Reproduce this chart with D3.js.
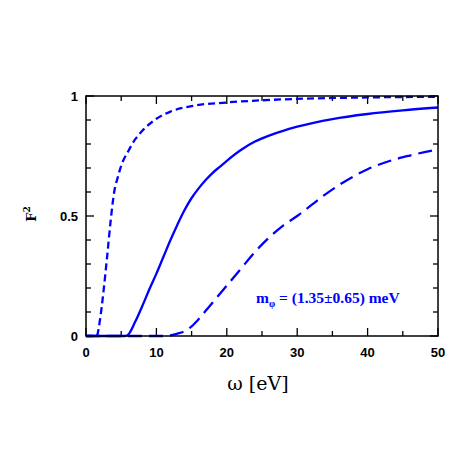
<!DOCTYPE html>
<html>
<head>
<meta charset="utf-8">
<script src="https://cdn.jsdelivr.net/npm/d3@7"></script>
<style>
  body { margin: 0; background: #fff; }
</style>
</head>
<body>
<div id="chart"></div>
<script>
// data
var xShort = [0, 1.5, 2, 2.5, 3, 3.5, 4, 4.5, 5, 6, 7, 8, 10, 12, 15, 20, 25, 30, 40, 50];
var yShort = [0, 0, 0.07, 0.19, 0.33, 0.48, 0.6, 0.66, 0.71, 0.77, 0.82, 0.855, 0.905, 0.935, 0.958, 0.973, 0.982, 0.988, 0.994, 0.997];

var xSolid = [0, 5.5, 6, 7, 8, 9, 10, 11, 12, 13, 14, 15, 16, 17, 18, 19, 20, 22, 24, 26, 28, 30, 35, 40, 45, 50];
var ySolid = [0, 0, 0.006, 0.06, 0.125, 0.195, 0.26, 0.33, 0.4, 0.465, 0.525, 0.575, 0.615, 0.65, 0.68, 0.705, 0.73, 0.775, 0.81, 0.835, 0.855, 0.872, 0.904, 0.925, 0.94, 0.952];

var xLong = [0, 11, 12, 13, 14, 15, 16, 17, 18, 19, 20, 22, 24, 26, 28, 30, 32, 34, 36, 38, 40, 43, 46, 50];
var yLong = [0, 0, 0.003, 0.01, 0.02, 0.04, 0.07, 0.105, 0.14, 0.175, 0.21, 0.28, 0.35, 0.41, 0.46, 0.5, 0.545, 0.59, 0.63, 0.665, 0.695, 0.728, 0.752, 0.778];

var xTicks = [0, 10, 20, 30, 40, 50];
var yTicks = [0, 0.5, 1];
var yTickLabels = ["0", "0.5", "1"];

function draw() {
  var W = 463, H = 463;
  var pLeft = 86, pRight = 438, pTop = 96, pBottom = 336;

  var svg = d3.select("#chart").append("svg")
      .attr("width", W)
      .attr("height", H);

  var x = d3.scaleLinear().domain([0, 50]).range([pLeft, pRight]);
  var y = d3.scaleLinear().domain([0, 1]).range([pBottom, pTop]);

  //ticks (all inward)
  var g = svg.append("g").attr("stroke", "#000").attr("stroke-width", 1.3);
  d3.range(0, 51, 5).forEach(function(v) {
    var len = (v % 10 == 0) ? 8 : 5;
    g.append("line").attr("x1", x(v)).attr("x2", x(v)).attr("y1", pBottom).attr("y2", pBottom - len);
    g.append("line").attr("x1", x(v)).attr("x2", x(v)).attr("y1", pTop).attr("y2", pTop + len);
  });
  d3.range(0, 11).forEach(function(i) {
    var v = i / 10;
    var len = (i % 5 == 0) ? 8 : 5;
    g.append("line").attr("x1", pLeft).attr("x2", pLeft + len).attr("y1", y(v)).attr("y2", y(v));
    g.append("line").attr("x1", pRight).attr("x2", pRight - len).attr("y1", y(v)).attr("y2", y(v));
  });

  // curves
  var line = d3.line()
    .x(function(d) { return x(d[0]); })
    .y(function(d) { return y(d[1]); })
    .curve(d3.curveMonotoneX);

  function pairs(xs, ys) {
    return xs.map(function(v, i) { return [v, ys[i]]; });
  }

  svg.append("path").datum(pairs(xSolid, ySolid))
    .attr("d", line).attr("fill", "none").attr("stroke", "#0000ff").attr("stroke-width", 2.3);
  svg.append("path").datum(pairs(xShort, yShort))
    .attr("d", line).attr("fill", "none").attr("stroke", "#0000ff").attr("stroke-width", 2.3)
    .attr("stroke-dasharray", "7,4");
  svg.append("path").datum(pairs(xLong, yLong))
    .attr("d", line).attr("fill", "none").attr("stroke", "#0000ff").attr("stroke-width", 2.3)
    .attr("stroke-dasharray", "14,7");

  // frame
  svg.append("rect")
    .attr("x", pLeft).attr("y", pTop)
    .attr("width", pRight - pLeft).attr("height", pBottom - pTop)
    .attr("fill", "none").attr("stroke", "#000").attr("stroke-width", 1.5);

  // tick labels
  svg.selectAll(".xl").data(xTicks).enter().append("text")
    .attr("x", function(d) { return x(d); })
    .attr("y", 357)
    .attr("text-anchor", "middle")
    .attr("font-family", "Liberation Sans, Arial, sans-serif")
    .attr("font-size", 13).attr("font-weight", "bold")
    .text(function(d) { return d; });

  svg.selectAll(".yl").data(yTicks).enter().append("text")
    .attr("x", pLeft - 8)
    .attr("y", function(d) { return y(d) + 5; })
    .attr("text-anchor", "end")
    .attr("font-family", "Liberation Sans, Arial, sans-serif")
    .attr("font-size", 13).attr("font-weight", "bold")
    .text(function(d, i) { return yTickLabels[i]; });

  // axis titles
  svg.append("text")
    .attr("x", 258).attr("y", 390)
    .attr("text-anchor", "middle")
    .attr("font-family", "DejaVu Serif, serif")
    .attr("font-size", 19)
    .text("ω [eV]");

  var yt = svg.append("text")
    .attr("transform", "translate(36,214) rotate(-90)")
    .attr("text-anchor", "middle")
    .attr("font-family", "DejaVu Serif, serif")
    .attr("font-size", 13)
    .attr("font-weight", "bold");
  yt.append("tspan").text("F");
  yt.append("tspan").attr("font-size", 9).attr("dy", -6).text("2");

  // annotation
  var ann = svg.append("text")
    .attr("x", 256).attr("y", 303)
    .attr("fill", "#0000ff")
    .attr("font-family", "Liberation Serif, serif")
    .attr("font-size", 15.5).attr("font-weight", "bold");
  ann.append("tspan").text("m");
  ann.append("tspan").attr("font-size", 10).attr("dy", 4).text("φ");
  ann.append("tspan").attr("dy", -4).text(" = (1.35±0.65) meV");
}

draw();
</script>
</body>
</html>
